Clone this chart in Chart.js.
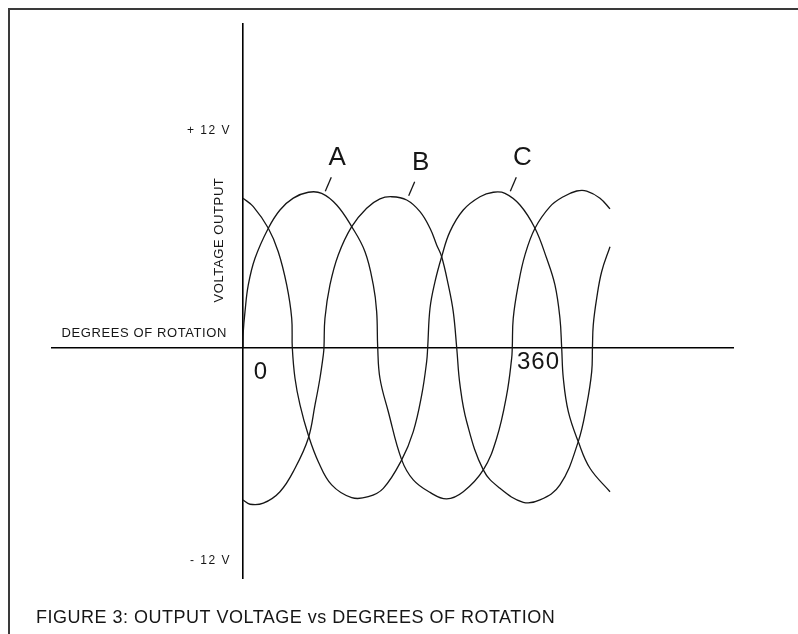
<!DOCTYPE html>
<html>
<head>
<meta charset="utf-8">
<title>Output voltage vs degrees of rotation</title>
<script src="https://cdn.jsdelivr.net/npm/chart.js@4.4.1/dist/chart.umd.min.js"></script>
<style>
  html, body { margin: 0; padding: 0; background: #fff; overflow: hidden; }
  #wrap { position: relative; width: 798px; height: 634px; overflow: hidden; }
  #frame { position: absolute; left: 8px; top: 8px; width: 820px; height: 660px;
           border-left: 2px solid #3a3a3a; border-top: 2px solid #3a3a3a; }
  canvas { position: absolute; left: 0; top: 0; }
</style>
</head>
<body>
<div id="wrap">
  <div id="frame"></div>
  <canvas id="phaseChart" width="798" height="634"></canvas>
</div>
<script>
// values: degrees of rotation -> volts
const aDeg = [0, 0.4, 2.7, 7.1, 16.1, 33.9, 49.5, 67.3, 87.4, 105.3, 125.4, 145.5, 163.3, 174.4, 178.9, 180.3, 183.3, 194.5, 212.4, 227.9,
              250.3, 272.6, 294.8, 321.6, 339.5, 352.9, 359.6, 360.4, 361.7, 368.4, 377.4, 390.8, 410.9, 428.7, 446.6, 460.0, 477.8, 491.2];
const aVolt = [0, 0.88, 2.0, 3.49, 4.98, 6.66, 7.68, 8.34, 8.67, 8.61, 7.96, 6.75, 5.35, 3.49, 2.0, 0, -1.72, -3.59, -6.28, -7.40,
               -8.10, -8.46, -8.06, -6.84, -5.07, -2.65, -0.60, 0, 1.63, 3.49, 5.17, 6.66, 7.87, 8.42, 8.74, 8.74, 8.34, 7.74];

const bDeg = [0, 9.4, 27.2, 49.5, 69.6, 87.4, 96.4, 103.0, 107.5, 108.4, 109.7, 116.4, 127.5, 145.5, 165.5, 183.3, 199.0, 219.1, 236.9, 250.3,
              259.2, 265.9, 274.8, 281.4, 286.0, 290.4, 299.4, 321.6, 343.9, 375.1, 397.5, 424.2, 448.7, 460.0, 466.7, 467.7, 468.8, 473.4, 480.0, 491.2];
const bVolt = [-8.52, -8.76, -8.70, -8.06, -6.75, -5.07, -3.21, -1.72, -0.42, 0, 1.63, 3.49, 5.17, 6.75, 7.78, 8.30, 8.42, 8.24, 7.59, 6.66,
               5.73, 5.07, 3.49, 2.0, 0, -2.09, -4.15, -6.84, -7.87, -8.65, -8.52, -7.68, -5.26, -3.21, -1.35, 0, 1.26, 2.75, 4.23, 5.63];

const cDeg = [0, 13.8, 33.9, 47.2, 58.5, 65.2, 66.0, 69.6, 76.3, 87.4, 100.8, 118.7, 145.5, 167.7, 187.8, 212.4, 227.9, 239.2, 245.8, 247.2,
              250.3, 257.0, 265.9, 277.0, 294.8, 317.2, 335.0, 350.6, 370.7, 390.8, 406.4, 417.5, 424.2, 426.5, 428.7, 435.4, 448.7, 464.4, 491.2];
const cVolt = [8.34, 7.87, 6.66, 5.35, 3.49, 1.63, 0, -1.72, -3.21, -4.89, -6.38, -7.68, -8.39, -8.34, -7.87, -6.28, -4.70, -2.65, -0.79, 0,
               2.19, 3.68, 5.07, 6.47, 7.68, 8.42, 8.67, 8.61, 7.96, 6.66, 4.98, 3.49, 1.63, 0, -1.72, -3.59, -5.26, -6.75, -8.06];

const phaseNames = ["A", "B", "C"];
const yTickValues = [12, -12];
const yTickLabels = ["+ 12 V", "- 12 V"];
const xTickValues = [0, 360];
const xTickLabels = ["0", "360"];
const xAxisTitle = "DEGREES OF ROTATION";
const yAxisTitle = "VOLTAGE OUTPUT";
const caption = "FIGURE 3: OUTPUT VOLTAGE vs DEGREES OF ROTATION";

const INK = "#161616";
const FONT = '"Liberation Sans", Arial, sans-serif';

function toPoints(xs, ys) {
    return xs.map((v, i) => ({ x: v, y: ys[i] }));
}

// first crest of a trace, used to hang the A/B/C tags
function firstCrest(ys) {
    for (let i = 1; i < ys.length - 1; i++) {
        if (ys[i] > 0 && ys[i] >= ys[i - 1] && ys[i] >= ys[i + 1]) return i;
    }
    return 0;
}

const figureText = {
    id: "figureText",
    afterDraw(chart) {
        const { ctx, scales: { x, y } } = chart;
        const x0 = x.getPixelForValue(0);
        const y0 = y.getPixelForValue(0);
        ctx.save();
        ctx.fillStyle = INK;
        ctx.strokeStyle = INK;
        ctx.textBaseline = "middle";

        // voltage marks
        ctx.font = "12px " + FONT;
        ctx.letterSpacing = "1.5px";
        ctx.textAlign = "right";
        yTickValues.forEach((v, i) => {
            ctx.fillText(yTickLabels[i], x0 - 12, y.getPixelForValue(v) - 2);
        });

        // axis names
        ctx.font = "13px " + FONT;
        ctx.letterSpacing = "0.6px";
        ctx.textAlign = "right";
        ctx.fillText(xAxisTitle, x0 - 16, y0 - 14);
        ctx.save();
        ctx.translate(x0 - 24, y.getPixelForValue(6));
        ctx.rotate(-Math.PI / 2);
        ctx.textAlign = "center";
        ctx.fillText(yAxisTitle, 0, 0);
        ctx.restore();

        // degree marks
        ctx.font = "24px " + FONT;
        ctx.letterSpacing = "1px";
        ctx.textAlign = "center";
        ctx.fillText(xTickLabels[0], x.getPixelForValue(xTickValues[0]) + 18, y0 + 25);
        ctx.textAlign = "left";
        ctx.fillText(xTickLabels[1], x.getPixelForValue(xTickValues[1]) + 5, y0 + 15);

        // phase tags with short leaders
        ctx.lineWidth = 1.3;
        ctx.font = "26px " + FONT;
        ctx.letterSpacing = "0px";
        chart.data.datasets.forEach((ds, i) => {
            const k = firstCrest(ds.data.map(p => p.y));
            const px = x.getPixelForValue(ds.data[k].x);
            const py = y.getPixelForValue(ds.data[k].y);
            ctx.beginPath();
            ctx.moveTo(px + 17, py - 1);
            ctx.lineTo(px + 23, py - 15);
            ctx.stroke();
            ctx.textAlign = "center";
            ctx.fillText(phaseNames[i], px + 29, py - 34);
        });

        // caption
        ctx.font = "18px " + FONT;
        ctx.letterSpacing = "0.5px";
        ctx.textAlign = "left";
        ctx.fillText(caption, 36, chart.height - 16);
        ctx.restore();
    }
};

const traces = [toPoints(aDeg, aVolt), toPoints(bDeg, bVolt), toPoints(cDeg, cVolt)];

new Chart(document.getElementById("phaseChart"), {
    type: "line",
    data: {
        datasets: traces.map((pts, i) => ({
            label: phaseNames[i],
            data: pts,
            borderColor: INK,
            borderWidth: 1.3,
            pointRadius: 0,
            fill: false,
            tension: 0.4
        }))
    },
    options: {
        responsive: false,
        animation: false,
        layout: { padding: { left: 52, right: 65, top: 24, bottom: 56 } },
        plugins: {
            legend: { display: false },
            tooltip: { enabled: false }
        },
        scales: {
            x: {
                type: "linear",
                min: -255.6,
                max: 655.8,
                position: { y: 0 },
                grid: { display: false },
                ticks: { display: false },
                border: { display: true, color: "#000", width: 1.6 }
            },
            y: {
                type: "linear",
                min: -12.88,
                max: 18.07,
                position: { x: 0 },
                grid: { display: false },
                ticks: { display: false },
                border: { display: true, color: "#000", width: 1.6 }
            }
        }
    },
    plugins: [figureText]
});
</script>
</body>
</html>
